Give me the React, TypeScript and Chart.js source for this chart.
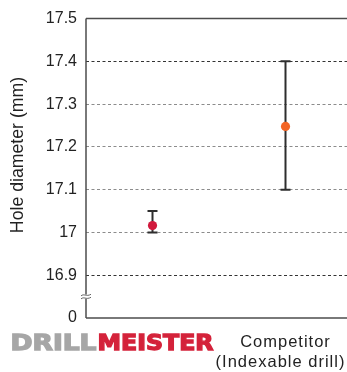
import React, { useEffect, useRef } from "react";
import { Chart, registerables } from "chart.js";

Chart.register(...registerables);

// ---- data ----
const categories = ["DRILLMEISTER", "Competitor"];
const categorySubLabels = ["", "(Indexable drill)"];
const means = [17.016, 17.248];
const lows = [17.0, 17.1];
const highs = [17.05, 17.4];
const pointColors = ["#d11a3d", "#f26424"];
const yTicks = [16.8, 16.9, 17.0, 17.1, 17.2, 17.3, 17.4, 17.5];
const yTickLabels = ["0", "16.9", "17", "17.1", "17.2", "17.3", "17.4", "17.5"];
const yTitle = "Hole diameter (mm)";
const logoParts = ["DRILL", "MEISTER"];

const FONT = "'Liberation Sans', Arial, Helvetica, sans-serif";

const overlay = {
  id: "overlay",
  beforeDatasetsDraw(chart: any) {
    const { ctx, chartArea, scales } = chart;
    const x = scales.x;
    const y = scales.y;
    ctx.save();
    ctx.strokeStyle = "#4d4d4d";
    ctx.lineWidth = 1.5;
    ctx.setLineDash([]);
    const yTop = y.getPixelForValue(yTicks[yTicks.length - 1]);
    const yBot = y.getPixelForValue(yTicks[0]);
    ctx.beginPath();
    ctx.moveTo(chartArea.left, yTop);
    ctx.lineTo(chartArea.right, yTop);
    ctx.moveTo(chartArea.left, yBot);
    ctx.lineTo(chartArea.right, yBot);
    ctx.moveTo(chartArea.left, yTop);
    ctx.lineTo(chartArea.left, yBot);
    ctx.stroke();

    // axis break symbol
    const yb = y.getPixelForValue(16.85);
    const xl = chartArea.left;
    ctx.fillStyle = "#ffffff";
    ctx.fillRect(xl - 2, yb - 2, 4, 4);
    ctx.strokeStyle = "#666";
    ctx.lineWidth = 1;
    for (const dy of [-1.5, 1.5]) {
      ctx.beginPath();
      const yy = yb + dy;
      ctx.moveTo(xl - 5, yy + 0.8);
      ctx.bezierCurveTo(xl - 2, yy - 2, xl + 0, yy + 2, xl + 5, yy - 0.8);
      ctx.stroke();
    }

    // error bars
    ctx.strokeStyle = "#2e2e2e";
    ctx.lineWidth = 2;
    means.forEach((_, i) => {
      const px = x.getPixelForValue(i);
      const top = y.getPixelForValue(highs[i]);
      const bot = y.getPixelForValue(lows[i]);
      ctx.beginPath();
      ctx.moveTo(px, top);
      ctx.lineTo(px, bot);
      ctx.moveTo(px - 5, top);
      ctx.lineTo(px + 5, top);
      ctx.moveTo(px - 5, bot);
      ctx.lineTo(px + 5, bot);
      ctx.stroke();
    });
    ctx.restore();
  },
  afterDraw(chart: any) {
    const { ctx, scales } = chart;
    const x = scales.x;
    ctx.save();

    // y-axis title
    ctx.translate(18, 155);
    ctx.rotate(-Math.PI / 2);
    ctx.font = `17.7px ${FONT}`;
    ctx.fillStyle = "#222";
    ctx.textAlign = "center";
    ctx.textBaseline = "middle";
    ctx.fillText(yTitle, 0, 0);
    ctx.restore();

    // competitor label
    ctx.save();
    ctx.fillStyle = "#222";
    ctx.textAlign = "center";
    ctx.textBaseline = "middle";
    ctx.font = `16.5px ${FONT}`;
    try { (ctx as any).letterSpacing = "1px"; } catch (e) {}
    const cx = x.getPixelForValue(1);
    ctx.fillText(categories[1], cx, 342);
    ctx.fillText(categorySubLabels[1], cx - 5, 362);
    ctx.restore();

    // logo for first category
    ctx.save();
    const lx = x.getPixelForValue(0);
    const left = lx - 142;
    const baseY = 350;
    ctx.font = `bold 21px 'DejaVu Sans', ${FONT}`;
    ctx.textBaseline = "alphabetic";
    ctx.textAlign = "left";
    const widths = [86, 116];
    let cur = left;
    logoParts.forEach((part, i) => {
      const m = ctx.measureText(part).width;
      const sx = widths[i] / m;
      const g = ctx.createLinearGradient(0, baseY - 15, 0, baseY);
      if (i === 0) {
        g.addColorStop(0, "#a6a6a6");
        g.addColorStop(1, "#6a6a6a");
      } else {
        g.addColorStop(0, "#d4223a");
        g.addColorStop(1, "#a8142a");
      }
      ctx.fillStyle = g;
      ctx.strokeStyle = g;
      ctx.lineWidth = 1.3;
      ctx.lineJoin = "miter";
      ctx.save();
      ctx.translate(cur, baseY);
      ctx.scale(sx, 1);
      ctx.fillText(part, 0, 0);
      ctx.strokeText(part, 0, 0);
      ctx.restore();
      cur += widths[i] + 1;
    });
    ctx.restore();
  },
};

export default function App() {
  const ref = useRef<HTMLCanvasElement | null>(null);
  useEffect(() => {
    if (!ref.current) return;
    const chart = new Chart(ref.current, {
      type: "line",
      data: {
        labels: categories,
        datasets: [
          {
            data: means,
            showLine: false,
            pointRadius: 4.6,
            pointHoverRadius: 4.6,
            pointBackgroundColor: pointColors,
            pointBorderColor: pointColors,
            pointBorderWidth: 0,
          },
        ],
      },
      options: {
        animation: false,
        responsive: false,
        maintainAspectRatio: false,
        layout: { autoPadding: false, padding: { top: 17, bottom: 54, left: 0, right: 0 } },
        plugins: {
          legend: { display: false },
          tooltip: { enabled: false },
        },
        scales: {
          x: {
            type: "category",
            display: false,
            offset: true,
          },
          y: {
            min: yTicks[0],
            max: yTicks[yTicks.length - 1],
            afterBuildTicks: (s: any) => {
              s.ticks = yTicks.map((v) => ({ value: v }));
            },
            afterFit: (s: any) => {
              s.width = 86;
            },
            ticks: {
              padding: 9,
              color: "#222",
              font: { family: FONT, size: 16 },
              callback: (_v: any, i: number) => yTickLabels[i],
            },
            grid: {
              drawTicks: false,
              lineWidth: 1,
              color: (c: any) => {
                const v = c.tick ? Math.round(c.tick.value * 10) / 10 : 0;
                if (v === 16.8 || v === 17.5) return "rgba(0,0,0,0)";
                if (v === 17.4 || v === 16.9) return "#333";
                return "#8c8c8c";
              },
            },
            border: { display: false, dash: [3, 2.5] },
          },
        },
      },
      plugins: [overlay],
    });
    return () => chart.destroy();
  }, []);
  return (
    <div style={{ position: "absolute", left: 0, top: 0, width: 347, height: 372, overflow: "hidden" }}>
      <canvas ref={ref} width={352} height={372} style={{ width: 352, height: 372, display: "block" }} />
    </div>
  );
}
